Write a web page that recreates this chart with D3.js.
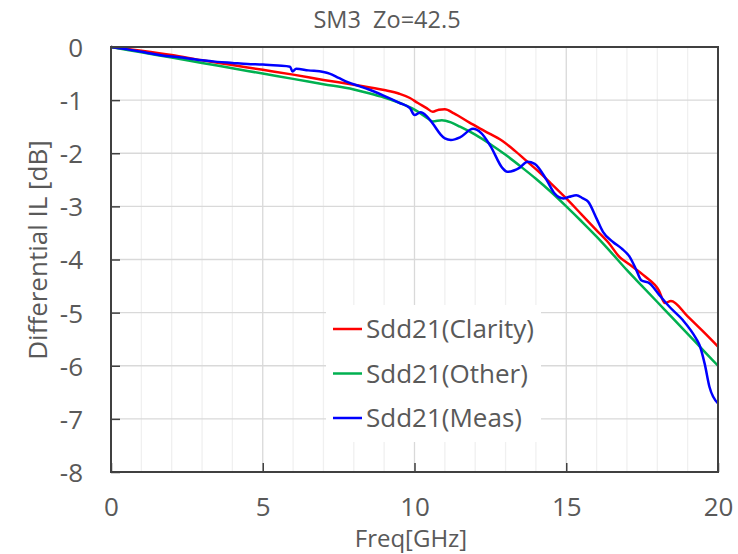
<!DOCTYPE html>
<html>
<head>
<meta charset="utf-8">
<title>SM3 Zo=42.5</title>
<script src="https://cdnjs.cloudflare.com/ajax/libs/d3/7.8.5/d3.min.js"></script>
<style>
body { margin: 0; background: #fff; }
text { font-family: "Open Sans", sans-serif; fill: #595959; }
</style>
</head>
<body>
<svg id="chart"></svg>
<script>
var freqClarity = [0, 1, 2, 3, 4, 5, 6, 7, 8, 9, 9.5, 9.85, 10.1, 10.4, 10.6, 10.8, 11.0, 11.3, 11.8, 12.3, 12.9, 13.3, 13.7, 14.0, 14.5, 15.0, 15.5, 16.0, 16.4, 16.75, 17.1, 17.6, 18.05, 18.25, 18.45, 19.0, 19.5, 20];
var sdd21Clarity = [0, -0.07, -0.15, -0.25, -0.34, -0.43, -0.52, -0.62, -0.71, -0.81, -0.88, -0.96, -1.05, -1.15, -1.22, -1.18, -1.17, -1.25, -1.42, -1.58, -1.77, -1.95, -2.15, -2.3, -2.57, -2.85, -3.15, -3.45, -3.69, -3.95, -4.1, -4.32, -4.58, -4.82, -4.78, -5.07, -5.35, -5.64];

var freqOther = [0, 1, 2, 3, 4, 5, 6, 7, 8, 8.5, 9, 9.5, 10, 10.4, 10.6, 10.9, 11.2, 11.5, 12, 12.5, 13, 13.5, 14, 14.5, 15, 15.5, 16, 16.5, 17, 17.5, 18, 18.5, 19, 19.5, 20];
var sdd21Other = [0, -0.1, -0.2, -0.3, -0.4, -0.5, -0.6, -0.7, -0.8, -0.87, -0.95, -1.05, -1.18, -1.33, -1.4, -1.38, -1.42, -1.5, -1.65, -1.83, -2.03, -2.25, -2.48, -2.73, -3.0, -3.28, -3.57, -3.88, -4.2, -4.5, -4.8, -5.1, -5.4, -5.7, -6.0];

var freqMeas = [0, 0.5, 1, 1.5, 2, 2.5, 3, 3.5, 4, 4.5, 5, 5.5, 5.9, 5.98, 6.1, 6.5, 7, 7.2, 7.5, 7.8, 8.2, 8.5, 9, 9.5, 9.85, 10.0, 10.2, 10.4, 10.6, 10.85, 11.0, 11.2, 11.5, 11.93, 12.2, 12.5, 12.9, 13.05, 13.47, 13.72, 13.96, 14.35, 14.62, 14.9, 15.1, 15.33, 15.55, 15.72, 16.0, 16.21, 16.54, 16.82, 17.09, 17.31, 17.47, 17.75, 18.07, 18.4, 18.84, 19.28, 19.39, 19.56, 19.72, 20];
var sdd21Meas = [0, -0.04, -0.09, -0.14, -0.18, -0.21, -0.25, -0.28, -0.3, -0.32, -0.33, -0.35, -0.37, -0.46, -0.41, -0.44, -0.47, -0.5, -0.58, -0.66, -0.74, -0.8, -0.92, -1.05, -1.15, -1.28, -1.23, -1.3, -1.44, -1.64, -1.72, -1.75, -1.7, -1.54, -1.62, -1.86, -2.28, -2.35, -2.27, -2.16, -2.2, -2.5, -2.76, -2.85, -2.82, -2.79, -2.85, -2.91, -3.23, -3.48, -3.67, -3.79, -3.95, -4.2, -4.39, -4.45, -4.67, -4.89, -5.14, -5.49, -5.61, -5.96, -6.4, -6.71];

var seriesNames = ["Sdd21(Clarity)", "Sdd21(Other)", "Sdd21(Meas)"];
var xTicks = [0, 5, 10, 15, 20];
var yTicks = [0, -1, -2, -3, -4, -5, -6, -7, -8];

var series = [
  { name: seriesNames[0], f: freqClarity, v: sdd21Clarity, color: "#ff0000" },
  { name: seriesNames[1], f: freqOther, v: sdd21Other, color: "#00b050" },
  { name: seriesNames[2], f: freqMeas, v: sdd21Meas, color: "#0000ff" }
];

var W = 738, H = 554;
var margin = { top: 47, right: 20, bottom: 82, left: 111 };
var width = 718 - margin.left;
var height = 472 - margin.top;

var svg = d3.select("#chart").attr("width", W).attr("height", H);
var g = svg.append("g").attr("transform", "translate(" + margin.left + "," + margin.top + ")");

var x = d3.scaleLinear().domain([0, 20]).range([0, width]);
var y = d3.scaleLinear().domain([-8, 0]).range([height, 0]);

// minor vertical grid every 1 GHz
g.append("g").selectAll("line")
  .data(d3.range(1, 20).filter(function(d) { return d % 5 != 0; }))
  .enter().append("line")
  .attr("x1", function(d) { return x(d); }).attr("x2", function(d) { return x(d); })
  .attr("y1", 0).attr("y2", height)
  .attr("stroke", "#f0f0f0").attr("stroke-width", 1.3);

// major grid
g.append("g").selectAll("line")
  .data([5, 10, 15])
  .enter().append("line")
  .attr("x1", function(d) { return x(d); }).attr("x2", function(d) { return x(d); })
  .attr("y1", 0).attr("y2", height)
  .attr("stroke", "#d9d9d9").attr("stroke-width", 1.3);

g.append("g").selectAll("line")
  .data(yTicks.slice(1, 8))
  .enter().append("line")
  .attr("x1", 0).attr("x2", width)
  .attr("y1", function(d) { return y(d); }).attr("y2", function(d) { return y(d); })
  .attr("stroke", "#d9d9d9").attr("stroke-width", 1.3);

// legend background sits over the grid
var legend = g.append("g");
legend.append("rect")
  .attr("x", 326 - margin.left).attr("y", 305 - margin.top)
  .attr("width", 215).attr("height", 137)
  .attr("fill", "#fff");

var line = d3.line()
  .x(function(d) { return x(d[0]); })
  .y(function(d) { return y(d[1]); })
  .curve(d3.curveMonotoneX);

series.forEach(function(s) {
  g.append("path")
    .datum(d3.zip(s.f, s.v))
    .attr("fill", "none")
    .attr("stroke", s.color)
    .attr("stroke-width", 2.5)
    .attr("stroke-linejoin", "round")
    .attr("d", line);
});

series.forEach(function(s, i) {
  var ly = 329 - margin.top + i * 44.5;
  legend.append("line")
    .attr("x1", 333 - margin.left).attr("x2", 362 - margin.left)
    .attr("y1", ly).attr("y2", ly)
    .attr("stroke", s.color).attr("stroke-width", 2.5);
  legend.append("text")
    .attr("x", 366 - margin.left).attr("y", ly + 9)
    .style("font-size", "26px")
    .text(s.name);
});

// axes
var axisColor = "#404040";
var fmt = function(d) { return String(d); };
var xAxis = g.append("g")
  .attr("transform", "translate(0," + height + ")")
  .call(d3.axisBottom(x).tickValues(xTicks).tickSize(-9).tickPadding(26).tickFormat(fmt));
var yAxis = g.append("g")
  .call(d3.axisLeft(y).tickValues(yTicks).tickSize(-9).tickPadding(28).tickFormat(fmt));

[xAxis, yAxis].forEach(function(a) {
  a.select(".domain").remove();
  a.selectAll(".tick line").attr("stroke", axisColor).attr("stroke-width", 1.5);
  a.selectAll(".tick text").attr("fill", "#595959").style("font-size", "26px").style("font-family", "'Open Sans', sans-serif");
});
xAxis.selectAll(".tick text").attr("dy", "0.71em");
yAxis.selectAll(".tick text").attr("dy", "0.36em");

// frame
g.append("rect")
  .attr("x", 0).attr("y", 0).attr("width", width).attr("height", height)
  .attr("fill", "none").attr("stroke", axisColor).attr("stroke-width", 2);

// titles
svg.append("text")
  .attr("x", 387).attr("y", 28)
  .attr("text-anchor", "middle")
  .style("font-size", "23.5px")
  .style("white-space", "pre")
  .text("SM3  Zo=42.5");

svg.append("text")
  .attr("x", 411).attr("y", 547)
  .attr("text-anchor", "middle")
  .style("font-size", "24px")
  .text("Freq[GHz]");

svg.append("text")
  .attr("transform", "translate(47,250) rotate(-90)")
  .attr("text-anchor", "middle")
  .style("font-size", "26px")
  .text("Differential IL [dB]");
</script>
</body>
</html>
